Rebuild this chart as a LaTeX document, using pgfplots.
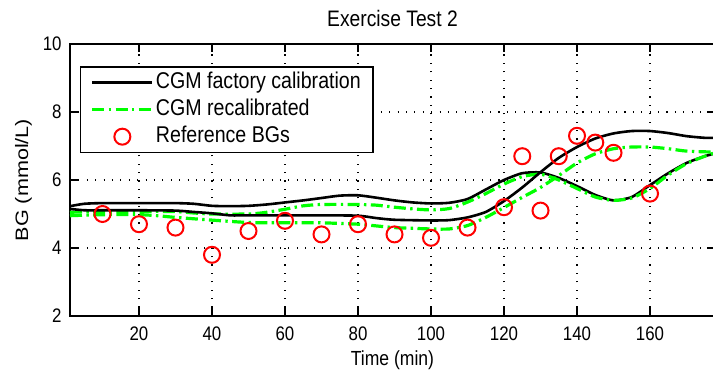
\documentclass[border=0pt]{standalone}
\usepackage{fontspec}
\setmainfont{Liberation Sans}[FakeStretch=0.86]
\newfontfamily\ylabfont{Liberation Sans}[FakeStretch=1.2]
\usepackage{pgfplots}
\pgfplotsset{compat=1.18}
\definecolor{mgreen}{RGB}{0,255,0}
\begin{document}
\begin{tikzpicture}
\begin{axis}[
 scale only axis, width=322.5pt, height=136pt,
 xmin=1.1, xmax=177.8, ymin=2, ymax=10,
 xtick={20,40,...,160}, ytick={2,4,...,10},
 /pgf/number format/assume math mode=true,
 tick label style={font=\fontsize{9.8}{11}\selectfont},
 xticklabel style={yshift=-1.7pt},
 yticklabel style={xshift=-0.7pt},
 tick align=inside, major tick length=4pt,
 axis line style={line width=0.75pt},
 every tick/.style={black, line width=0.75pt},
 grid=major,
 major grid style={black, line width=0.55pt, dash pattern=on 0.55pt off 3.65pt},
 title={Exercise Test 2},
 title style={at={(axis description cs:0.5,1)}, anchor=base, yshift=2.65pt, inner sep=0pt, font=\fontsize{11.2}{13}\selectfont},
 xlabel={Time (min)},
 xlabel style={at={(axis description cs:0.5,0)}, anchor=base, yshift=-25pt, inner sep=0pt, font=\fontsize{10.2}{12}\selectfont},
 ylabel={BG (mmol/L)},
 ylabel style={at={(axis description cs:-0.0651,0.5)}, anchor=base, inner sep=0pt, font=\ylabfont\fontsize{9}{11}\selectfont},
 legend style={at={(axis description cs:0.0155,0.919)}, anchor=north west, draw=black, line width=0.75pt, fill=white, inner xsep=5pt, inner ysep=1.8pt, row sep=1.2pt, font=\fontsize{11.4}{13}\selectfont, nodes={inner sep=1pt, text height=8pt, text depth=2.3pt}},
 legend cell align=left,
 legend image code/.code={\draw[mark repeat=2,mark phase=2,#1] plot coordinates {(0pt,0pt) (15pt,0pt) (30pt,0pt)};},
]
\addplot[black, line width=1.3pt, smooth, tension=0.4] coordinates {
(1.1,5.23) (5,5.3) (10,5.32) (20,5.32) (30,5.32) (35,5.3) (40,5.24) (45,5.23) (50,5.24) (55,5.28) (60,5.34) (65,5.4) (70,5.47) (75,5.54) (80,5.55) (85,5.48) (90,5.4) (95,5.34) (100,5.31) (105,5.33) (110,5.44) (115,5.72) (120,6.0) (125,6.2) (130,6.22) (135,6.06) (140,5.82) (145,5.56) (150,5.4) (155,5.5) (160,5.85) (165,6.2) (170,6.5) (175,6.7) (177.8,6.78)};
\addlegendentry{CGM factory calibration}
\addplot[mgreen, line width=1.6pt, dash pattern=on 6pt off 2.2pt on 1.2pt off 2.2pt, smooth, tension=0.4] coordinates {
(1.1,5.05) (10,5.08) (20,5.08) (30,5.07) (35,5.03) (40,5.0) (50,5.0) (55,5.05) (60,5.14) (65,5.24) (70,5.28) (80,5.28) (85,5.26) (90,5.2) (95,5.15) (100,5.12) (105,5.16) (110,5.35) (115,5.6) (120,5.88) (125,6.1) (130,6.17) (135,6.0) (140,5.75) (145,5.5) (150,5.4) (155,5.47) (160,5.75) (165,6.15) (170,6.48) (175,6.7) (177.8,6.8)};
\addlegendentry{CGM recalibrated}
\addplot[black, line width=1.3pt, smooth, tension=0.4, forget plot] coordinates {
(1.1,5.15) (5,5.11) (10,5.11) (20,5.11) (30,5.1) (35,5.06) (40,5.02) (45,4.96) (50,4.96) (60,4.96) (70,4.96) (80,4.95) (85,4.88) (90,4.83) (100,4.81) (105,4.82) (110,4.9) (115,5.06) (120,5.38) (125,5.78) (130,6.23) (135,6.65) (140,6.97) (145,7.22) (150,7.37) (155,7.44) (160,7.44) (165,7.38) (170,7.29) (175,7.24) (177.8,7.24)};
\addplot[mgreen, line width=1.6pt, dash pattern=on 6pt off 2.2pt on 1.2pt off 2.2pt, smooth, tension=0.4, forget plot] coordinates {
(1.1,4.95) (10,4.98) (20,4.98) (25,4.95) (30,4.9) (40,4.82) (50,4.75) (60,4.74) (70,4.74) (80,4.7) (85,4.65) (90,4.6) (100,4.56) (105,4.56) (110,4.66) (115,4.9) (120,5.19) (125,5.49) (130,5.78) (135,6.13) (140,6.5) (145,6.77) (150,6.92) (155,6.97) (160,6.97) (165,6.92) (170,6.85) (177.8,6.82)};
\addplot[only marks, mark=o, mark size=4pt, red, line width=1pt] coordinates {
(10,5.0) (20,4.7) (30,4.6) (40,3.8) (50,4.5) (60,4.8) (70,4.4) (80,4.7) (90,4.4) (100,4.3) (110,4.6) (120,5.2) (125,6.7) (130,5.1) (135,6.7) (140,7.3) (145,7.1) (150,6.8) (160,5.6)};
\addlegendentry{Reference BGs}
\end{axis}
\pgfresetboundingbox
\path ([xshift=-35pt,yshift=-29pt]current axis.south west) rectangle ([xshift=-1pt,yshift=22pt]current axis.north east);
\end{tikzpicture}
\end{document}
